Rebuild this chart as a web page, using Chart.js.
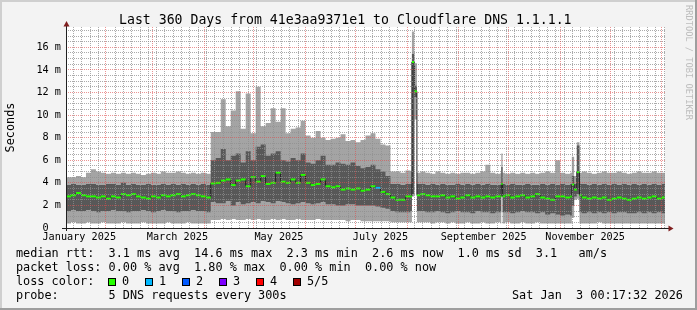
<!DOCTYPE html>
<html>
<head>
<meta charset="utf-8">
<script src="https://cdn.jsdelivr.net/npm/chart.js@4.4.1/dist/chart.umd.min.js"></script>
<style>
html,body{margin:0;padding:0;background:#f3f3f3;}
#wrap{position:relative;width:697px;height:310px;overflow:hidden;}
#c{position:absolute;left:0;top:0;}
.t{position:absolute;font-family:"DejaVu Sans Mono",monospace;color:#000;white-space:pre;line-height:1;}
.lg{font-size:11.83px;}
.box{position:absolute;width:6px;height:6px;border:1px solid #000;}
#wm{font-size:8.7px;color:#bdbdbd;writing-mode:vertical-rl;}
</style>
</head>
<body>
<div id="wrap">
<canvas id="c" width="697" height="310"></canvas>
<div class="t" style="left:119px;top:12.8px;font-size:13.2px;">Last 360 Days from 41e3aa9371e1 to Cloudflare DNS 1.1.1.1</div>
<div class="t lg" style="left:16px;top:247.7px;">median rtt:  3.1 ms avg  14.6 ms max  2.3 ms min  2.6 ms now  1.0 ms sd  3.1   am/s</div>
<div class="t lg" style="left:16px;top:261.7px;">packet loss: 0.00 % avg  1.80 % max  0.00 % min  0.00 % now</div>
<div class="t lg" style="left:16px;top:275.7px;">loss color:</div>
<div id="lossLegend"></div>
<div class="t lg" style="left:16px;top:289.7px;">probe:       5 DNS requests every 300s</div>
<div class="t lg" style="left:512px;top:289.7px;">Sat Jan  3 00:17:32 2026</div>
<div class="t" id="wm" style="left:684px;top:5px;">RRDTOOL / TOBI OETIKER</div>
</div>
<script>
// ---- time frame ----
const startMs = Date.UTC(2025, 0, 8, 0, 17, 32);
const spanDays = 360;

// ---- column start (days since graph start) ----
const days = [
  0,3,6,9,12,15,18,21,24,27,30,33,36,39,42,45,48,51,54,57,60,63,66,69,72,75,78,81,84,
  87,90,93,96,99,102,105,108,111,114,117,120,123,126,129,132,135,138,141,144,
  147,150,153,156,159,162,165,168,171,174,177,180,183,186,189,192,195,198,201,204,
  207,207.9,209.3,
  210.9,213,216,219,222,225,228,231,234,237,240,243,246,249,252,255,258,261,261.6,262.4,
  264,267,270,273,276,279,282,285,288,291,294,297,300,303,304,305.4,307,308.6,
  310,313,316,319,322,325,328,331,334,337,340,343,346,349,352,355,358
];
// ---- ping values, ms ----
const maxMs = [
  4.5,4.5,4.6,4.5,4.9,5.2,5.0,4.9,4.8,4.9,4.8,4.9,4.8,4.9,4.8,4.7,4.8,4.9,4.8,5.0,4.9,4.9,5.0,4.9,4.8,4.9,4.8,4.9,4.8,
  8.5,8.5,11.4,9.0,10.4,12.1,8.8,11.9,8.4,12.5,9.0,9.3,10.6,9.4,10.6,8.4,8.8,8.9,9.5,8.2,
  8.0,8.6,8.0,7.8,7.9,8.0,8.3,7.7,7.8,7.6,7.8,8.2,8.4,7.9,7.4,7.3,5.0,5.0,4.9,5.1,
  5.0,17.4,14.6,
  4.9,5.0,4.9,4.8,5.0,4.9,4.8,4.9,4.8,4.9,4.9,4.8,4.9,5.0,5.6,4.9,4.8,4.9,6.6,4.9,
  4.8,4.9,4.8,4.9,4.8,4.9,4.8,4.9,5.0,4.9,6.0,4.9,4.8,4.9,6.3,4.6,7.6,4.9,
  5.0,4.9,4.8,4.9,5.0,4.9,4.9,5.0,4.9,4.8,4.9,5.0,4.9,4.9,5.0,4.9,4.9
];
const q3Ms = [
  3.8,3.9,3.8,3.8,3.9,3.9,3.8,3.8,3.9,3.9,3.8,4.0,3.8,3.9,3.8,3.8,3.9,3.8,3.8,3.9,3.8,3.9,3.8,3.9,3.8,3.9,3.8,3.9,3.8,
  6.0,6.2,7.0,6.0,6.4,6.6,5.8,6.8,6.0,7.2,7.4,6.4,6.6,6.8,6.0,5.9,6.2,6.0,6.6,5.8,
  5.7,6.0,6.4,5.6,5.6,5.8,5.7,5.6,5.8,5.5,5.3,5.4,5.6,5.2,5.0,4.6,3.9,3.9,3.8,3.9,
  3.9,15.4,12.6,
  3.9,3.9,3.8,3.9,3.8,3.9,3.8,3.8,3.9,3.8,3.9,3.8,3.9,3.8,3.9,3.8,3.8,3.8,5.4,3.9,
  3.8,3.9,3.8,3.8,3.9,3.8,3.8,3.9,3.8,3.9,3.8,3.9,3.8,3.9,4.6,3.9,7.3,3.9,
  3.9,3.8,3.9,3.8,3.9,3.8,3.9,3.8,3.9,3.8,3.9,3.8,3.9,3.8,3.9,3.8,3.9
];
const medianMs = [
  2.8,2.9,3.1,2.9,2.8,2.8,2.7,2.8,2.6,2.8,2.7,3.0,2.9,3.0,2.8,2.7,2.6,2.8,2.7,2.9,2.8,2.9,3.0,2.8,2.9,3.0,2.9,2.8,2.7,
  3.95,4.0,4.2,4.3,3.8,4.2,4.3,3.7,4.5,4.1,4.6,3.9,4.0,4.9,4.1,4.0,4.3,4.0,4.7,4.0,
  3.8,3.9,4.3,3.7,3.6,3.7,3.4,3.5,3.4,3.5,3.3,3.4,3.7,3.55,3.2,3.0,2.7,2.5,2.5,2.8,
  2.8,14.7,12.1,
  2.9,3.0,2.9,2.8,2.8,2.9,2.7,2.8,2.6,2.7,2.9,2.7,2.8,2.7,2.8,2.7,2.8,2.8,3.9,2.8,
  2.9,2.7,2.8,2.9,2.7,2.8,3.0,2.7,2.6,2.5,2.8,2.8,2.7,2.8,3.85,3.4,4.95,2.9,
  2.7,2.6,2.7,2.6,2.7,2.5,2.6,2.7,2.6,2.5,2.6,2.7,2.6,2.7,2.8,2.6,2.7
];
const q1Ms = [
  1.5,1.6,1.5,1.5,1.6,1.5,1.4,1.5,1.5,1.6,1.5,1.5,1.4,1.5,1.5,1.6,1.5,1.4,1.5,1.6,1.5,1.5,1.4,1.5,1.5,1.6,1.5,1.5,1.4,
  2.3,2.2,2.2,2.4,2.0,2.3,2.1,2.2,2.3,2.2,2.4,2.3,2.2,2.4,2.3,2.2,2.1,2.2,2.3,2.2,
  2.1,2.2,2.3,2.1,2.1,2.0,2.0,2.1,2.1,2.0,2.0,2.0,2.0,1.9,1.8,1.7,1.5,1.4,1.4,1.4,
  1.5,3.0,11.6,
  1.5,1.5,1.4,1.4,1.5,1.4,1.3,1.4,1.5,1.4,1.4,1.3,1.5,1.4,1.4,1.3,1.4,1.4,3.5,1.4,
  1.4,1.3,1.4,1.5,1.4,1.4,1.3,1.4,1.2,1.3,1.2,1.1,1.2,1.1,2.0,2.8,3.0,1.4,
  1.3,1.4,1.3,1.4,1.3,1.4,1.3,1.4,1.4,1.3,1.3,1.4,1.3,1.4,1.3,1.4,1.3
];
const minMs = [
  0.4,0.5,0.4,0.4,0.5,0.4,0.4,0.5,0.4,0.4,0.4,0.5,0.4,0.4,0.4,0.5,0.4,0.4,0.4,0.4,0.5,0.4,0.4,0.4,0.5,0.4,0.4,0.4,0.4,
  0.7,0.7,0.8,0.7,0.8,0.7,0.7,0.8,0.7,0.8,0.7,0.7,0.8,0.7,0.8,0.7,0.7,0.8,0.7,0.7,
  0.7,0.8,0.7,0.7,0.7,0.7,0.7,0.6,0.7,0.7,0.6,0.6,0.6,0.6,0.6,0.6,0.5,0.5,0.5,0.5,
  0.5,2.8,9.6,
  0.5,0.5,0.5,0.4,0.5,0.5,0.4,0.5,0.4,0.4,0.5,0.4,0.4,0.5,0.4,0.4,0.5,0.4,3.3,0.4,
  0.5,0.4,0.4,0.5,0.4,0.4,0.5,0.4,0.4,0.4,0.4,0.4,0.4,0.4,0.9,2.5,2.6,0.4,
  0.4,0.4,0.4,0.5,0.4,0.4,0.4,0.4,0.4,0.4,0.4,0.4,0.4,0.4,0.4,0.4,0.4
];
// lost pings (of 5) per column
const lossCount = [
  0,0,0,0,0,0,0,0,0,0,0,0,0,0,0,0,0,0,0,0,0,0,0,0,0,0,0,0,0,
  0,0,0,0,0,0,0,0,0,0,0,0,0,0,0,0,0,0,0,0,
  0,0,0,0,0,0,0,0,0,0,0,0,0,1,0,0,0,0,0,0,
  0,0,0,
  0,0,0,0,0,0,0,0,0,0,0,0,0,0,0,0,0,0,0,0,
  0,0,0,0,0,0,0,0,0,0,0,0,0,0,0,0,0,0,
  0,0,0,0,0,0,0,0,0,0,0,0,0,0,0,0,0
];

// ---- axis texts ----
const yTicks = [0,2,4,6,8,10,12,14,16];
const yMax = 17.8;
const monthLabels = ['January 2025','March 2025','May 2025','July 2025','September 2025','November 2025'];
const labelMonths = [[2025,0],[2025,2],[2025,4],[2025,6],[2025,8],[2025,10]];
const lossColors = ['#26ff00','#00b8ff','#0059ff','#7e00ff','#ff0000','#a10000'];
const lossLabels = ['0','1','2','3','4','5/5'];

// ---- derived positions ----
const dayOf = (y, m, d) => (Date.UTC(y, m, d) - startMs) / 86400000;
const labelDays = labelMonths.map(([y, m]) => dayOf(y, m, 16));
const majorDays = [];
for (let m = 1; m <= 12; m++) majorDays.push(dayOf(2025, m, 1));
const minorDays = [];
{
  const e0 = startMs / 86400000;
  for (let k = Math.ceil(e0 / 5) * 5; k - e0 <= spanDays; k += 5) {
    const d = k - e0 + 0.5;
    if (!majorDays.some(md => Math.abs(md - d) < 1)) minorDays.push(d);
  }
}
const minorY = [];
for (let k = 1; k * 0.5 < yMax; k++) if (k % 4 !== 0) minorY.push(k * 0.5);

// legend boxes
{
  const host = document.getElementById('lossLegend');
  lossColors.forEach((c, k) => {
    const b = document.createElement('div');
    b.className = 'box';
    b.style.left = (108 + 37 * k) + 'px';
    b.style.top = '278px';
    b.style.background = c;
    host.appendChild(b);
    const t = document.createElement('div');
    t.className = 't lg';
    t.style.left = (122 + 37 * k) + 'px';
    t.style.top = '275.7px';
    t.textContent = lossLabels[k];
    host.appendChild(t);
  });
}

const n = days.length;
const nextDay = i => (i < n - 1 ? days[i + 1] : spanDays);
const stepPts = arr => days.map((d, i) => ({x: d, y: arr[i]})).concat([{x: spanDays, y: arr[n - 1]}]);
const medPts = days.map((d, i) => ({x: (d + nextDay(i)) / 2, y: medianMs[i]}));
const halfWidth = c => {
  if (c.dataIndex == null) return 0;
  const s = c.chart.scales.x;
  const i = c.dataIndex;
  return (s.getPixelForValue(nextDay(i)) - s.getPixelForValue(days[i])) / 2;
};
const lossColor = c => lossColors[lossCount[c.dataIndex] || 0];

const FONT = '"DejaVu Sans Mono", monospace';
Chart.defaults.font.family = FONT;
const GRID = 'rgba(143,143,143,0.75)';
const MGRID = 'rgba(222,79,79,0.6)';

const base = {xAxisID: 'x', yAxisID: 'y', pointRadius: 0, pointHoverRadius: 0, stepped: true,
  borderWidth: 0, borderColor: 'rgba(0,0,0,0)', fill: false};

const frame = {
  id: 'rrdFrame',
  beforeDraw(chart) {
    const {ctx, chartArea: a} = chart;
    ctx.save();
    ctx.fillStyle = '#f3f3f3';
    ctx.fillRect(0, 0, chart.width, chart.height);
    ctx.fillStyle = '#ffffff';
    ctx.fillRect(a.left, a.top, a.right - a.left, a.bottom - a.top);
    ctx.restore();
  },
  afterDraw(chart) {
    const {ctx, chartArea: a} = chart;
    const W = chart.width, H = chart.height;
    ctx.save();
    ctx.strokeStyle = '#202020';
    ctx.lineWidth = 1;
    ctx.beginPath();
    ctx.moveTo(a.left - 4, a.bottom + 0.5);
    ctx.lineTo(a.right + 4, a.bottom + 0.5);
    ctx.moveTo(a.left + 0.5, a.bottom + 3);
    ctx.lineTo(a.left + 0.5, a.top - 1);
    ctx.stroke();
    ctx.fillStyle = '#801f1f';
    ctx.beginPath();
    ctx.moveTo(a.left + 0.5, a.top - 6);
    ctx.lineTo(a.left - 2.5, a.top - 0.5);
    ctx.lineTo(a.left + 3.5, a.top - 0.5);
    ctx.closePath();
    ctx.fill();
    ctx.beginPath();
    ctx.moveTo(a.right + 8.5, a.bottom + 0.5);
    ctx.lineTo(a.right + 3.5, a.bottom - 2.5);
    ctx.lineTo(a.right + 3.5, a.bottom + 3.5);
    ctx.closePath();
    ctx.fill();
    ctx.fillStyle = '#cfcfcf';
    ctx.fillRect(0, 0, W, 2);
    ctx.fillRect(0, 0, 2, H);
    ctx.fillStyle = '#9e9e9e';
    ctx.fillRect(0, H - 2, W, 2);
    ctx.fillRect(W - 2, 0, 2, H);
    ctx.restore();
  }
};

const setTicks = vals => s => { s.ticks = vals.map(v => ({value: v})); };

new Chart(document.getElementById('c'), {
  type: 'line',
  data: {
    datasets: [
      {xAxisID: 'x', yAxisID: 'y', label: 'median', data: medPts, showLine: false, pointStyle: 'line',
        pointRadius: halfWidth, pointHoverRadius: halfWidth, pointBorderWidth: 2,
        pointBorderColor: lossColor, pointBackgroundColor: lossColor},
      {...base, label: 'median line', data: stepPts(medianMs), borderWidth: 1, borderColor: '#202020'},
      {...base, label: 'q3', data: stepPts(q3Ms)},
      {...base, label: 'q1', data: stepPts(q1Ms), fill: '-1', backgroundColor: '#585858'},
      {...base, label: 'max', data: stepPts(maxMs)},
      {...base, label: 'min', data: stepPts(minMs), fill: '-1', backgroundColor: '#a4a4a4'}
    ]
  },
  options: {
    responsive: false,
    animation: false,
    devicePixelRatio: 1,
    events: [],
    layout: {padding: {top: 27, right: 32, bottom: 0, left: 0}},
    plugins: {legend: {display: false}, tooltip: {enabled: false}},
    scales: {
      xMinor: {type: 'linear', axis: 'x', position: 'bottom', min: 0, max: spanDays,
        afterBuildTicks: setTicks(minorDays), afterFit: s => { s.height = 0; },
        ticks: {display: false},
        grid: {color: GRID, lineWidth: 1, drawTicks: false, z: 1, borderDash: [1, 1]},
        border: {display: false, dash: [1, 1]}},
      xMajor: {type: 'linear', axis: 'x', position: 'bottom', min: 0, max: spanDays,
        afterBuildTicks: setTicks(majorDays), afterFit: s => { s.height = 0; },
        ticks: {display: false},
        grid: {color: MGRID, lineWidth: 1, drawTicks: false, z: 2, borderDash: [1, 1]},
        border: {display: false, dash: [1, 1]}},
      x: {type: 'linear', axis: 'x', position: 'bottom', min: 0, max: spanDays,
        afterBuildTicks: setTicks(labelDays), afterFit: s => { s.height = 82; },
        grid: {display: false, drawTicks: false},
        border: {display: false},
        ticks: {color: '#000', font: {family: FONT, size: 10.2, lineHeight: 1.2}, padding: 3,
          maxRotation: 0, minRotation: 0, autoSkip: false,
          callback: (v, i) => monthLabels[i]}},
      yMinor: {type: 'linear', axis: 'y', position: 'left', min: 0, max: yMax,
        afterBuildTicks: setTicks(minorY), afterFit: s => { s.width = 0; },
        ticks: {display: false},
        grid: {color: GRID, lineWidth: 1, drawTicks: false, z: 1, borderDash: [1, 1]},
        border: {display: false, dash: [1, 1]}},
      y: {type: 'linear', axis: 'y', position: 'left', min: 0, max: yMax,
        afterBuildTicks: setTicks(yTicks), afterFit: s => { s.width = 66; },
        ticks: {color: '#000', font: {family: FONT, size: 10.2, lineHeight: 1.2}, padding: 5,
          callback: v => (v === 0 ? '0  ' : v + ' m')},
        grid: {color: c => (c.tick && c.tick.value === 0 ? 'rgba(0,0,0,0)' : MGRID), lineWidth: 1,
          drawTicks: false, z: 2, borderDash: [1, 1]},
        border: {display: false, dash: [1, 1]},
        title: {display: true, text: 'Seconds', color: '#000',
          font: {family: FONT, size: 11.83, lineHeight: 1.2}, padding: {top: 4, bottom: 0}}}
    }
  },
  plugins: [frame]
});
</script>
</body>
</html>
